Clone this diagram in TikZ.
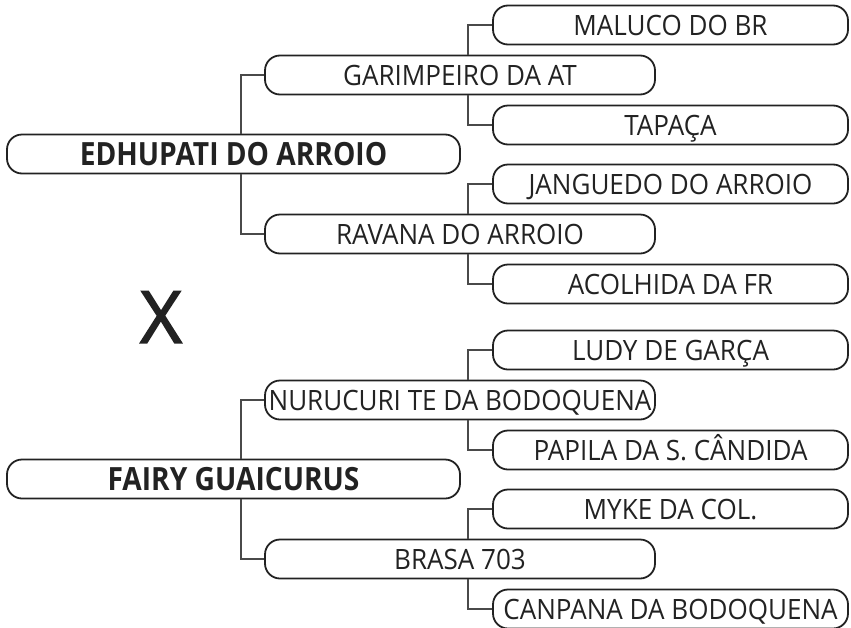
\documentclass[tikz,border=0pt]{standalone}
\usepackage{fontspec}
\setmainfont{Open Sans}[FakeStretch=0.93]
\newfontfamily\lvlonefont{Open Sans}[FakeStretch=0.88]
\newfontfamily\crossfont{Open Sans}[FakeBold=2.2]
\definecolor{ink}{HTML}{222222}
\definecolor{wire}{HTML}{4A4A4A}
\begin{document}
\begin{tikzpicture}[x=1pt,y=-1pt,
  box/.style={draw=ink, line width=1.8pt, rounded corners=15pt, inner sep=0pt,
    minimum height=39pt, text=ink, anchor=center},
  lone/.style={box, minimum width=453pt, font=\lvlonefont\bfseries\fontsize{32}{32}\selectfont,
    text height=23pt, text depth=0pt},
  ltwo/.style={box, minimum width=390pt, font=\fontsize{28}{28}\selectfont,
    text height=20pt, text depth=0pt},
  lthree/.style={box, minimum width=355pt, font=\fontsize{28}{28}\selectfont,
    text height=20pt, text depth=0pt},
  conn/.style={draw=wire, line width=1.2pt}]
\useasboundingbox (0,0) rectangle (851,627);

% level 1
\node[lone] (edh) at (233.5,154) {EDHUPATI DO ARROIO};
\node[lone] (fai) at (233.5,479) {FAIRY GUAICURUS};

% level 2
\node[ltwo] (gar) at (460,75) {GARIMPEIRO DA AT};
\node[ltwo] (rav) at (460,234) {RAVANA DO ARROIO};
\node[ltwo] (nur) at (460,400) {NURUCURI TE DA BODOQUENA};
\node[ltwo] (bra) at (460,559) {BRASA 703};

% level 3
\node[lthree] (mal) at (670.5,25) {MALUCO DO BR};
\node[lthree] (tap) at (670.5,125) {TAPAÇA};
\node[lthree] (jan) at (670.5,184) {JANGUEDO DO ARROIO};
\node[lthree] (aco) at (670.5,284) {ACOLHIDA DA FR};
\node[lthree] (lud) at (670.5,350) {LUDY DE GARÇA};
\node[lthree] (pap) at (670.5,450) {PAPILA DA S. CÂNDIDA};
\node[lthree] (myk) at (670.5,509) {MYKE DA COL.};
\node[lthree] (can) at (670.5,609) {CANPANA DA BODOQUENA};

% cross sign
\node[font=\crossfont\fontsize{72}{72}\selectfont, text=ink, inner sep=0pt] (x) at (161,317) {X};

% connector columns
\coordinate (ca) at (241,0);
\coordinate (cb) at (468,0);

\draw[conn] (edh.north -| ca) |- (gar.west);
\draw[conn] (edh.south -| ca) |- (rav.west);
\draw[conn] (fai.north -| ca) |- (nur.west);
\draw[conn] (fai.south -| ca) |- (bra.west);

\draw[conn] (gar.north -| cb) |- (mal.west);
\draw[conn] (gar.south -| cb) |- (tap.west);
\draw[conn] (rav.north -| cb) |- (jan.west);
\draw[conn] (rav.south -| cb) |- (aco.west);
\draw[conn] (nur.north -| cb) |- (lud.west);
\draw[conn] (nur.south -| cb) |- (pap.west);
\draw[conn] (bra.north -| cb) |- (myk.west);
\draw[conn] (bra.south -| cb) |- (can.west);
\end{tikzpicture}
\end{document}
